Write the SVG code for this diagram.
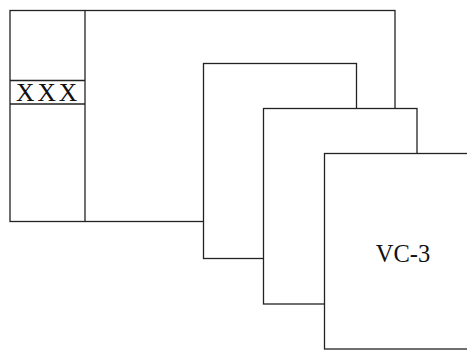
<svg xmlns="http://www.w3.org/2000/svg" width="467" height="350" viewBox="0 0 467 350">
<style>
.box{fill:#fff;stroke:#222;stroke-width:1.3}
.ln{stroke:#222;stroke-width:1.3;fill:none}
.t{font-family:"Liberation Serif","Times New Roman",serif;fill:#111}
</style>
<rect width="467" height="350" fill="#fff"/>
<g id="frame">
<rect class="box" x="10" y="10.5" width="385" height="211"/>
<line class="ln" x1="85" y1="10.5" x2="85" y2="221.5"/>
<line class="ln" x1="10" y1="80.5" x2="85" y2="80.5"/>
<line class="ln" x1="10" y1="104" x2="85" y2="104"/>
<text class="t" x="16" y="101" font-size="25.5" letter-spacing="3">XXX</text>
</g>
<g id="vc1">
<rect class="box" x="203.5" y="63.5" width="153" height="195"/>
</g>
<g id="vc2">
<rect class="box" x="263.5" y="108.5" width="153.5" height="195.5"/>
</g>
<g id="vc3">
<rect class="box" x="324.5" y="153.5" width="150" height="195.5"/>
<text class="t" x="403" y="261.5" font-size="24.5" text-anchor="middle">VC-3</text>
</g>
<g id="connectors"/>
</svg>
